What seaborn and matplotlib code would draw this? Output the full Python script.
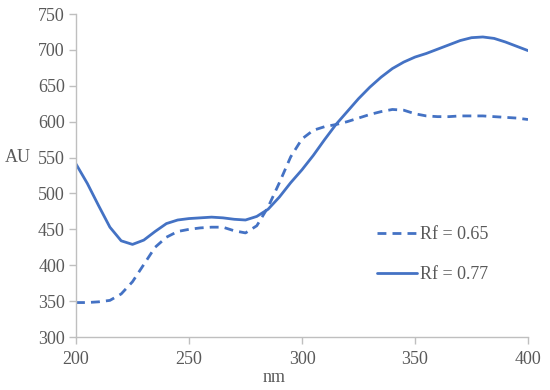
import numpy as np
import pandas as pd
import seaborn as sns
import matplotlib.pyplot as plt

# wavelength (nm) and absorbance readings for the two spots
nm = list(range(200, 401, 5))
rf_065 = [348, 348, 349, 351, 360, 377, 401, 425, 439, 447, 450, 452, 453, 453, 448,
          445, 455, 481, 515, 551, 576, 588, 593, 596, 600, 605, 610, 614, 617, 616,
          611, 608, 607, 607, 608, 608, 608, 607, 606, 605, 603]
rf_077 = [541, 514, 483, 453, 434, 429, 435, 447, 458, 463, 465, 466, 467, 466, 464,
          463, 468, 478, 495, 515, 533, 553, 575, 596, 614, 632, 648, 662, 674, 683,
          690, 695, 701, 707, 713, 717, 718, 716, 711, 705, 699]
labels = ['Rf = 0.65', 'Rf = 0.77']

df = pd.DataFrame({
    'nm': nm * 2,
    'AU': rf_065 + rf_077,
    'series': [labels[0]] * len(nm) + [labels[1]] * len(nm),
})

sns.set_theme(style='white')
plt.rcParams['font.family'] = ['Liberation Serif', 'DejaVu Serif']

fig = plt.figure(figsize=(5.5, 3.9), dpi=100)
ax = fig.add_axes([76 / 550, 1 - 337 / 390, 452 / 550, 323 / 390])

blue = '#4472C4'
sns.lineplot(data=df, x='nm', y='AU', hue='series', style='series',
             palette=[blue, blue], dashes={labels[0]: (3.2, 2.2), labels[1]: ''},
             linewidth=2, ax=ax)

ax.set_xlim(200, 400)
ax.set_ylim(300, 750)
ax.set_xticks(range(200, 401, 50))
ax.set_yticks(range(300, 751, 50))

for side in ['top', 'right']:
    ax.spines[side].set_visible(False)
for side in ['left', 'bottom']:
    ax.spines[side].set_color('#BFBFBF')
    ax.spines[side].set_linewidth(1)

ax.tick_params(axis='both', which='major', length=5, width=1, color='#BFBFBF',
               labelsize=13, labelcolor='#595959', direction='out')
ax.tick_params(axis='x', pad=5, bottom=True)
ax.tick_params(axis='y', pad=3, left=True)

ax.set_xlabel('nm', fontsize=13, color='#595959')
ax.xaxis.set_label_coords(0.438, -0.1)
ax.set_ylabel('AU', fontsize=13, color='#595959', rotation=0, ha='right', va='center')
ax.yaxis.set_label_coords(-0.1, 0.556)

ax.legend(title=None, frameon=False, fontsize=13, handlelength=2.2,
          handletextpad=0.2, labelspacing=1.3, loc='center left',
          bbox_to_anchor=(0.63, 0.255), labelcolor='#595959')

fig.savefig('out.png', dpi=100)
